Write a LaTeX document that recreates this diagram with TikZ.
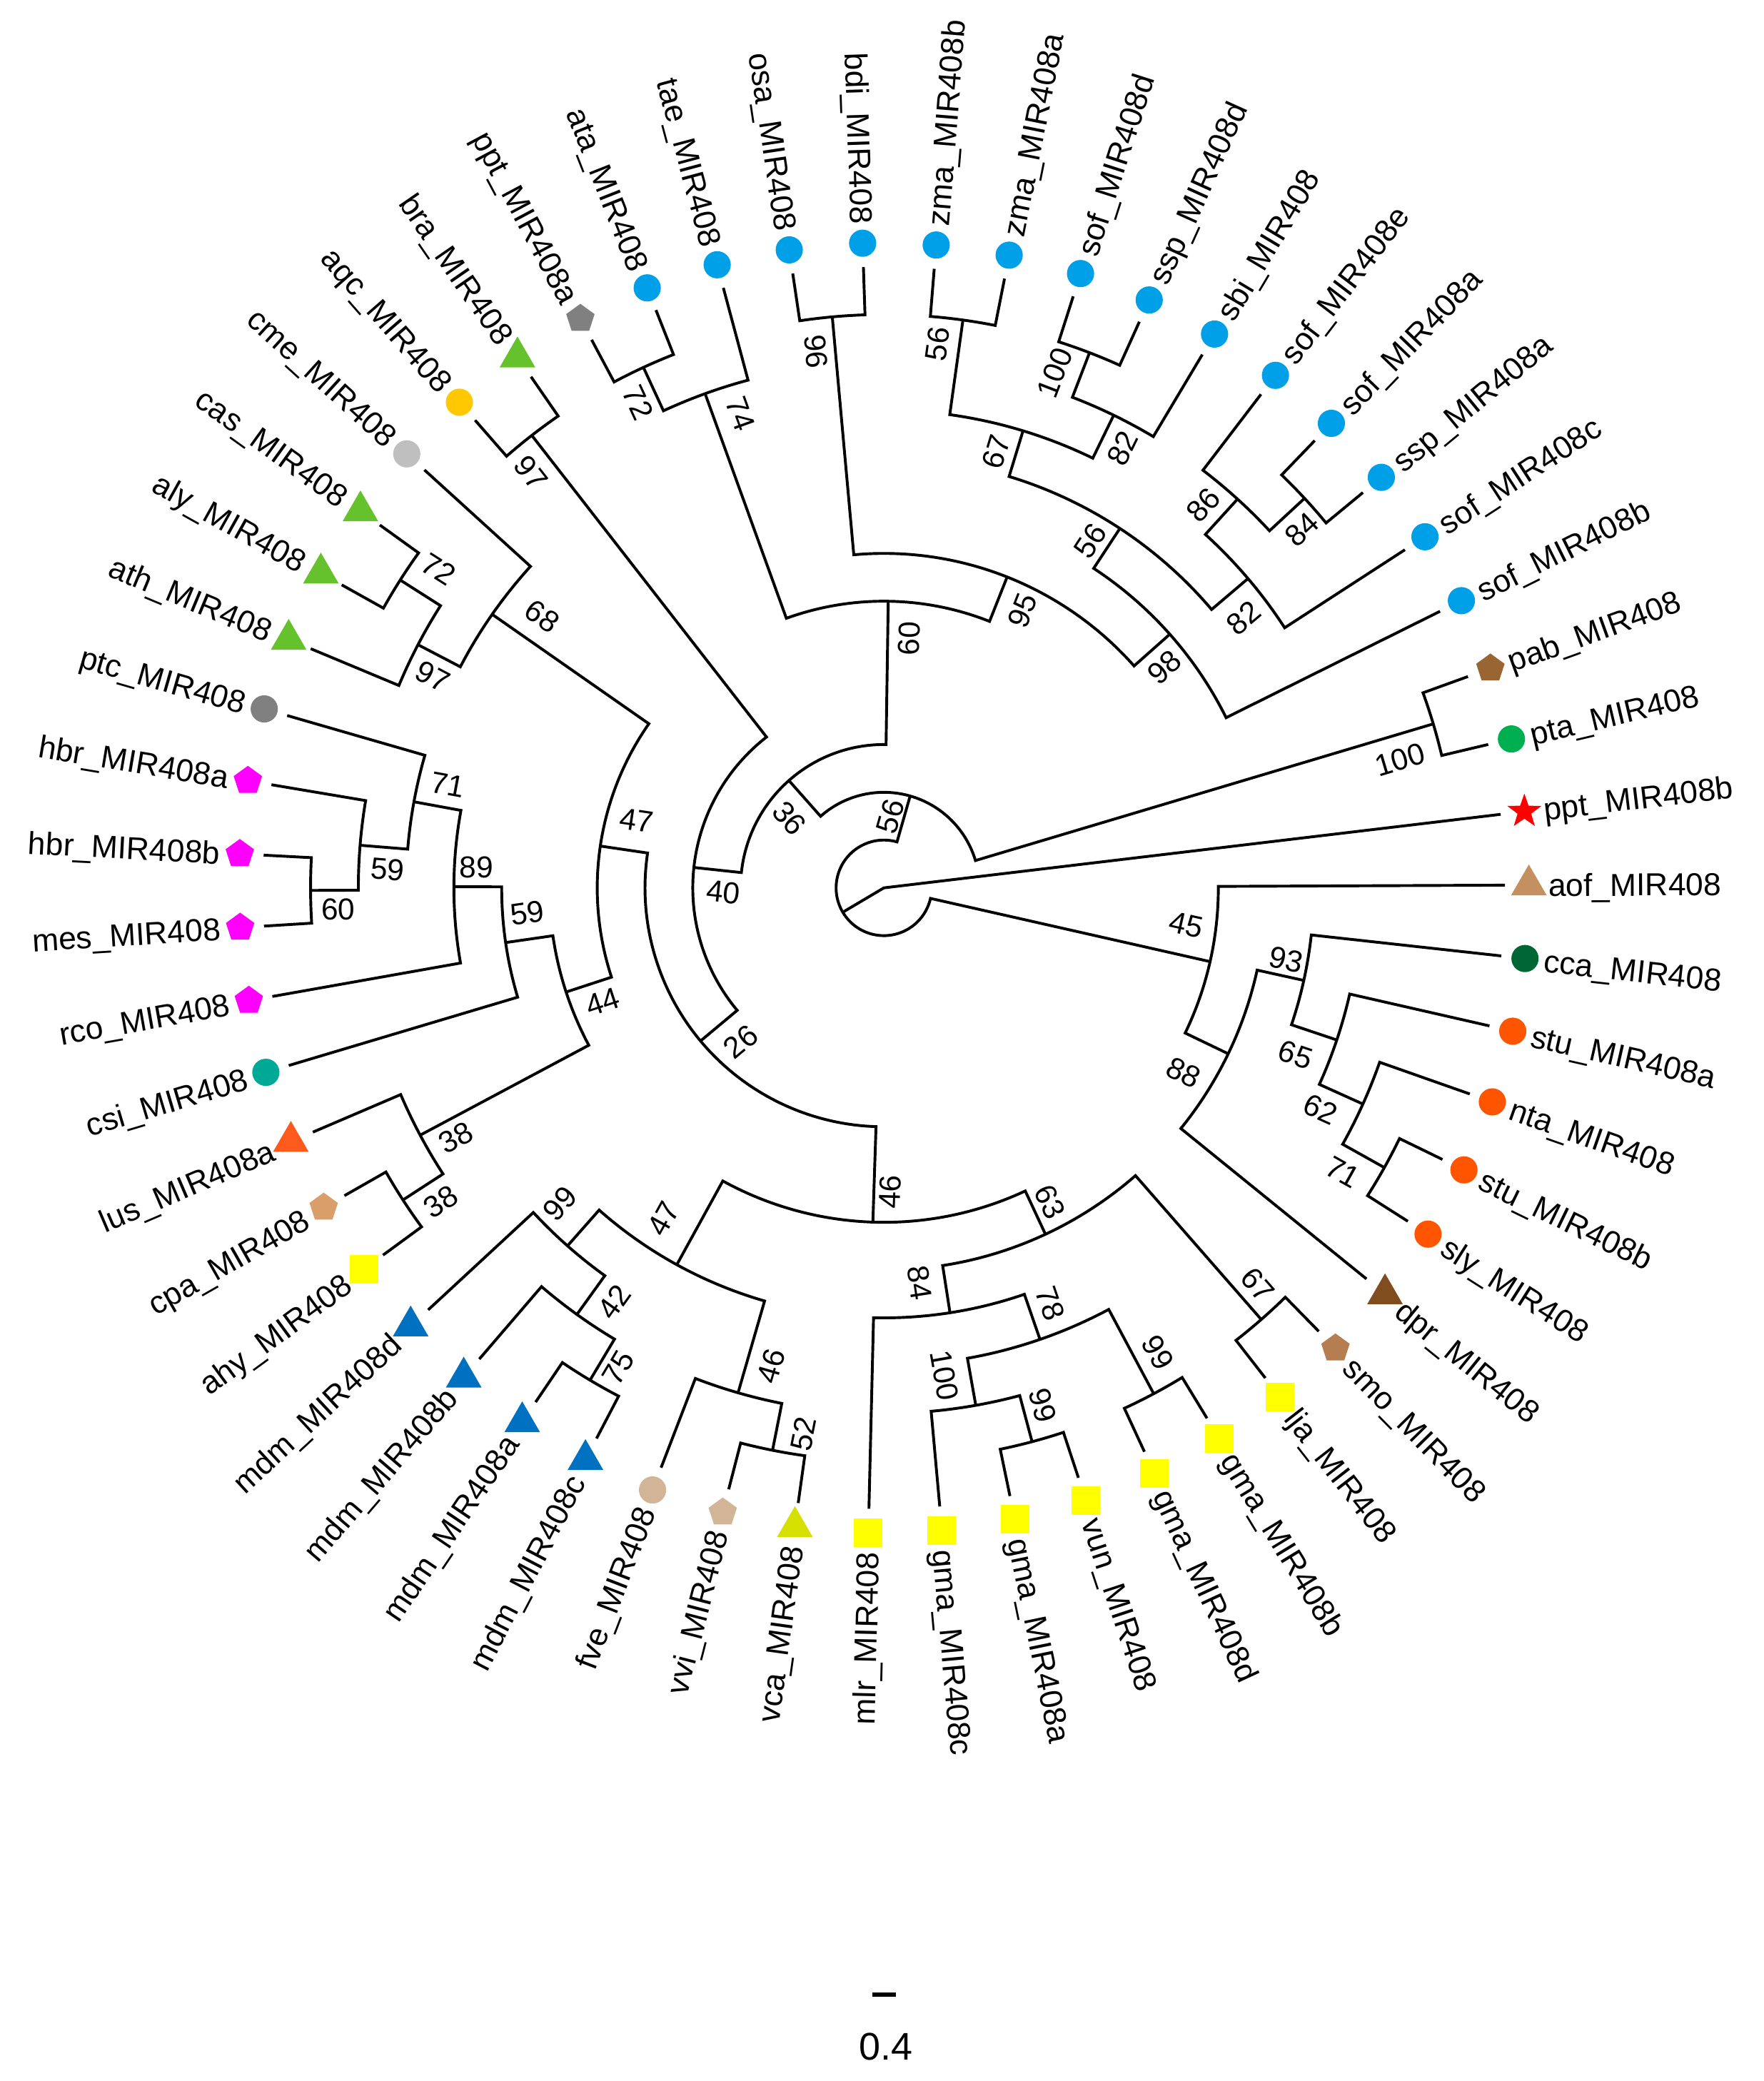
\documentclass[tikz,border=0pt]{standalone}
\usepackage{fontspec}
\setmainfont{Liberation Sans}
\usetikzlibrary{shapes.geometric}
\definecolor{pptred}{RGB}{255,0,0}
\definecolor{ptagreen}{RGB}{0,176,80}
\definecolor{pabbrown}{RGB}{153,102,51}
\definecolor{grassblue}{RGB}{0,160,233}
\definecolor{pptgray}{RGB}{128,128,128}
\definecolor{brassgreen}{RGB}{102,194,44}
\definecolor{aqcyellow}{RGB}{255,200,0}
\definecolor{cmegray}{RGB}{191,191,191}
\definecolor{ptcgray}{RGB}{128,128,128}
\definecolor{hbrmagenta}{RGB}{255,0,255}
\definecolor{csiteal}{RGB}{0,168,150}
\definecolor{lusorange}{RGB}{255,90,30}
\definecolor{cpapeach}{RGB}{217,158,106}
\definecolor{fabyellow}{RGB}{255,255,0}
\definecolor{mdmblue}{RGB}{0,112,192}
\definecolor{vvitan}{RGB}{210,180,150}
\definecolor{vcalime}{RGB}{214,224,0}
\definecolor{smobrown}{RGB}{181,126,80}
\definecolor{dprbrown}{RGB}{128,77,30}
\definecolor{solorange}{RGB}{255,85,0}
\definecolor{ccagreen}{RGB}{0,102,51}
\definecolor{aoftan}{RGB}{196,144,96}
\tikzset{
  branch/.style={line width=1.2pt},
  dot/.style={circle, minimum size=0.41cm, inner sep=0pt},
  tri/.style={regular polygon, regular polygon sides=3, minimum size=0.62cm, inner sep=0pt},
  pent/.style={regular polygon, regular polygon sides=5, minimum size=0.45cm, inner sep=0pt},
  sq/.style={rectangle, minimum size=0.43cm, inner sep=0pt},
  starm/.style={star, star points=5, star point ratio=2.5, minimum size=0.54cm, inner sep=0pt},
  lab/.style={font=\fontsize{13.6}{16}\selectfont, inner sep=0pt, text height=9.7pt, text depth=0pt},
  labr/.style={lab, anchor=west},
  labl/.style={lab, anchor=east},
  boot/.style={font=\fontsize{13}{15}\selectfont, inner sep=0pt, text height=9.3pt, text depth=0pt}
}
\begin{document}
\begin{tikzpicture}[x=0.72cm,y=0.72cm]
\useasboundingbox (-18.5,-24.972) rectangle (18.417,18.583);

\coordinate (pptb) at (6.80:13); \node[starm, fill=pptred] (pptb-m) at (6.80:13.5) {}; \node[labr, rotate=6.80] (pptb-t) at (6.80:13.9) {ppt\_MIR408b};
\coordinate (pta) at (13.35:13); \node[dot, fill=ptagreen] (pta-m) at (13.35:13.5) {}; \node[labr, rotate=13.35] (pta-t) at (13.35:13.9) {pta\_MIR408};
\coordinate (pab) at (19.89:13); \node[pent, fill=pabbrown] (pab-m) at (19.89:13.5) {}; \node[labr, rotate=19.89] (pab-t) at (19.89:13.9) {pab\_MIR408};
\coordinate (sofb) at (26.44:13); \node[dot, fill=grassblue] (sofb-m) at (26.44:13.5) {}; \node[labr, rotate=26.44] (sofb-t) at (26.44:13.9) {sof\_MIR408b};
\coordinate (sofc) at (32.98:13); \node[dot, fill=grassblue] (sofc-m) at (32.98:13.5) {}; \node[labr, rotate=32.98] (sofc-t) at (32.98:13.9) {sof\_MIR408c};
\coordinate (sspa) at (39.53:13); \node[dot, fill=grassblue] (sspa-m) at (39.53:13.5) {}; \node[labr, rotate=39.53] (sspa-t) at (39.53:13.9) {ssp\_MIR408a};
\coordinate (sofa) at (46.07:13); \node[dot, fill=grassblue] (sofa-m) at (46.07:13.5) {}; \node[labr, rotate=46.07] (sofa-t) at (46.07:13.9) {sof\_MIR408a};
\coordinate (sofe) at (52.62:13); \node[dot, fill=grassblue] (sofe-m) at (52.62:13.5) {}; \node[labr, rotate=52.62] (sofe-t) at (52.62:13.9) {sof\_MIR408e};
\coordinate (sbi) at (59.16:13); \node[dot, fill=grassblue] (sbi-m) at (59.16:13.5) {}; \node[labr, rotate=59.16] (sbi-t) at (59.16:13.9) {sbi\_MIR408};
\coordinate (sspd) at (65.71:13); \node[dot, fill=grassblue] (sspd-m) at (65.71:13.5) {}; \node[labr, rotate=65.71] (sspd-t) at (65.71:13.9) {ssp\_MIR408d};
\coordinate (sofd) at (72.25:13); \node[dot, fill=grassblue] (sofd-m) at (72.25:13.5) {}; \node[labr, rotate=72.25] (sofd-t) at (72.25:13.9) {sof\_MIR408d};
\coordinate (zmaa) at (78.80:13); \node[dot, fill=grassblue] (zmaa-m) at (78.80:13.5) {}; \node[labr, rotate=78.80] (zmaa-t) at (78.80:13.9) {zma\_MIR408a};
\coordinate (zmab) at (85.35:13); \node[dot, fill=grassblue] (zmab-m) at (85.35:13.5) {}; \node[labr, rotate=85.35] (zmab-t) at (85.35:13.9) {zma\_MIR408b};
\coordinate (bdi) at (91.89:13); \node[dot, fill=grassblue] (bdi-m) at (91.89:13.5) {}; \node[labl, rotate=-88.11] (bdi-t) at (91.89:13.9) {bdi\_MIR408};
\coordinate (osa) at (98.44:13); \node[dot, fill=grassblue] (osa-m) at (98.44:13.5) {}; \node[labl, rotate=-81.56] (osa-t) at (98.44:13.9) {osa\_MIR408};
\coordinate (tae) at (104.98:13); \node[dot, fill=grassblue] (tae-m) at (104.98:13.5) {}; \node[labl, rotate=-75.02] (tae-t) at (104.98:13.9) {tae\_MIR408};
\coordinate (ata) at (111.53:13); \node[dot, fill=grassblue] (ata-m) at (111.53:13.5) {}; \node[labl, rotate=-68.47] (ata-t) at (111.53:13.9) {ata\_MIR408};
\coordinate (ppta) at (118.07:13); \node[pent, fill=pptgray] (ppta-m) at (118.07:13.5) {}; \node[labl, rotate=-61.93] (ppta-t) at (118.07:13.9) {ppt\_MIR408a};
\coordinate (bra) at (124.62:13); \node[tri, fill=brassgreen] (bra-m) at (124.62:13.5) {}; \node[labl, rotate=-55.38] (bra-t) at (124.62:13.9) {bra\_MIR408};
\coordinate (aqc) at (131.16:13); \node[dot, fill=aqcyellow] (aqc-m) at (131.16:13.5) {}; \node[labl, rotate=-48.84] (aqc-t) at (131.16:13.9) {aqc\_MIR408};
\coordinate (cme) at (137.71:13); \node[dot, fill=cmegray] (cme-m) at (137.71:13.5) {}; \node[labl, rotate=-42.29] (cme-t) at (137.71:13.9) {cme\_MIR408};
\coordinate (cas) at (144.25:13); \node[tri, fill=brassgreen] (cas-m) at (144.25:13.5) {}; \node[labl, rotate=-35.75] (cas-t) at (144.25:13.9) {cas\_MIR408};
\coordinate (aly) at (150.80:13); \node[tri, fill=brassgreen] (aly-m) at (150.80:13.5) {}; \node[labl, rotate=-29.20] (aly-t) at (150.80:13.9) {aly\_MIR408};
\coordinate (ath) at (157.35:13); \node[tri, fill=brassgreen] (ath-m) at (157.35:13.5) {}; \node[labl, rotate=-22.65] (ath-t) at (157.35:13.9) {ath\_MIR408};
\coordinate (ptc) at (163.89:13); \node[dot, fill=ptcgray] (ptc-m) at (163.89:13.5) {}; \node[labl, rotate=-16.11] (ptc-t) at (163.89:13.9) {ptc\_MIR408};
\coordinate (hbra) at (170.44:13); \node[pent, fill=hbrmagenta] (hbra-m) at (170.44:13.5) {}; \node[labl, rotate=-9.56] (hbra-t) at (170.44:13.9) {hbr\_MIR408a};
\coordinate (hbrb) at (176.98:13); \node[pent, fill=hbrmagenta] (hbrb-m) at (176.98:13.5) {}; \node[labl, rotate=-3.02] (hbrb-t) at (176.98:13.9) {hbr\_MIR408b};
\coordinate (mes) at (183.53:13); \node[pent, fill=hbrmagenta] (mes-m) at (183.53:13.5) {}; \node[labl, rotate=3.53] (mes-t) at (183.53:13.9) {mes\_MIR408};
\coordinate (rco) at (190.07:13); \node[pent, fill=hbrmagenta] (rco-m) at (190.07:13.5) {}; \node[labl, rotate=10.07] (rco-t) at (190.07:13.9) {rco\_MIR408};
\coordinate (csi) at (196.62:13); \node[dot, fill=csiteal] (csi-m) at (196.62:13.5) {}; \node[labl, rotate=16.62] (csi-t) at (196.62:13.9) {csi\_MIR408};
\coordinate (lus) at (203.16:13); \node[tri, fill=lusorange] (lus-m) at (203.16:13.5) {}; \node[labl, rotate=23.16] (lus-t) at (203.16:13.9) {lus\_MIR408a};
\coordinate (cpa) at (209.71:13); \node[pent, fill=cpapeach] (cpa-m) at (209.71:13.5) {}; \node[labl, rotate=29.71] (cpa-t) at (209.71:13.9) {cpa\_MIR408};
\coordinate (ahy) at (216.25:13); \node[sq, fill=fabyellow] (ahy-m) at (216.25:13.5) {}; \node[labl, rotate=36.25] (ahy-t) at (216.25:13.9) {ahy\_MIR408};
\coordinate (mdmd) at (222.80:13); \node[tri, fill=mdmblue] (mdmd-m) at (222.80:13.5) {}; \node[labl, rotate=42.80] (mdmd-t) at (222.80:13.9) {mdm\_MIR408d};
\coordinate (mdmb) at (229.35:13); \node[tri, fill=mdmblue] (mdmb-m) at (229.35:13.5) {}; \node[labl, rotate=49.35] (mdmb-t) at (229.35:13.9) {mdm\_MIR408b};
\coordinate (mdma) at (235.89:13); \node[tri, fill=mdmblue] (mdma-m) at (235.89:13.5) {}; \node[labl, rotate=55.89] (mdma-t) at (235.89:13.9) {mdm\_MIR408a};
\coordinate (mdmc) at (242.44:13); \node[tri, fill=mdmblue] (mdmc-m) at (242.44:13.5) {}; \node[labl, rotate=62.44] (mdmc-t) at (242.44:13.9) {mdm\_MIR408c};
\coordinate (fve) at (248.98:13); \node[dot, fill=vvitan] (fve-m) at (248.98:13.5) {}; \node[labl, rotate=68.98] (fve-t) at (248.98:13.9) {fve\_MIR408};
\coordinate (vvi) at (255.53:13); \node[pent, fill=vvitan] (vvi-m) at (255.53:13.5) {}; \node[labl, rotate=75.53] (vvi-t) at (255.53:13.9) {vvi\_MIR408};
\coordinate (vca) at (262.07:13); \node[tri, fill=vcalime] (vca-m) at (262.07:13.5) {}; \node[labl, rotate=82.07] (vca-t) at (262.07:13.9) {vca\_MIR408};
\coordinate (mlr) at (268.62:13); \node[sq, fill=fabyellow] (mlr-m) at (268.62:13.5) {}; \node[labl, rotate=88.62] (mlr-t) at (268.62:13.9) {mlr\_MIR408};
\coordinate (gmac) at (275.16:13); \node[sq, fill=fabyellow] (gmac-m) at (275.16:13.5) {}; \node[labr, rotate=275.16] (gmac-t) at (275.16:13.9) {gma\_MIR408c};
\coordinate (gmaa) at (281.71:13); \node[sq, fill=fabyellow] (gmaa-m) at (281.71:13.5) {}; \node[labr, rotate=281.71] (gmaa-t) at (281.71:13.9) {gma\_MIR408a};
\coordinate (vun) at (288.25:13); \node[sq, fill=fabyellow] (vun-m) at (288.25:13.5) {}; \node[labr, rotate=288.25] (vun-t) at (288.25:13.9) {vun\_MIR408};
\coordinate (gmad) at (294.80:13); \node[sq, fill=fabyellow] (gmad-m) at (294.80:13.5) {}; \node[labr, rotate=294.80] (gmad-t) at (294.80:13.9) {gma\_MIR408d};
\coordinate (gmab) at (301.35:13); \node[sq, fill=fabyellow] (gmab-m) at (301.35:13.5) {}; \node[labr, rotate=301.35] (gmab-t) at (301.35:13.9) {gma\_MIR408b};
\coordinate (lja) at (307.89:13); \node[sq, fill=fabyellow] (lja-m) at (307.89:13.5) {}; \node[labr, rotate=307.89] (lja-t) at (307.89:13.9) {lja\_MIR408};
\coordinate (smo) at (314.44:13); \node[pent, fill=smobrown] (smo-m) at (314.44:13.5) {}; \node[labr, rotate=314.44] (smo-t) at (314.44:13.9) {smo\_MIR408};
\coordinate (dpr) at (320.98:13); \node[tri, fill=dprbrown] (dpr-m) at (320.98:13.5) {}; \node[labr, rotate=320.98] (dpr-t) at (320.98:13.9) {dpr\_MIR408};
\coordinate (sly) at (327.53:13); \node[dot, fill=solorange] (sly-m) at (327.53:13.5) {}; \node[labr, rotate=327.53] (sly-t) at (327.53:13.9) {sly\_MIR408};
\coordinate (stub) at (334.07:13); \node[dot, fill=solorange] (stub-m) at (334.07:13.5) {}; \node[labr, rotate=334.07] (stub-t) at (334.07:13.9) {stu\_MIR408b};
\coordinate (nta) at (340.62:13); \node[dot, fill=solorange] (nta-m) at (340.62:13.5) {}; \node[labr, rotate=340.62] (nta-t) at (340.62:13.9) {nta\_MIR408};
\coordinate (stua) at (347.16:13); \node[dot, fill=solorange] (stua-m) at (347.16:13.5) {}; \node[labr, rotate=347.16] (stua-t) at (347.16:13.9) {stu\_MIR408a};
\coordinate (cca) at (353.71:13); \node[dot, fill=ccagreen] (cca-m) at (353.71:13.5) {}; \node[labr, rotate=353.71] (cca-t) at (353.71:13.9) {cca\_MIR408};
\coordinate (aof) at (0.25:13); \node[tri, fill=aoftan] (aof-m) at (0.25:13.5) {}; \node[labr, rotate=0.25] (aof-t) at (0.25:13.9) {aof\_MIR408};

\coordinate (root) at (0,0);
\coordinate (rest) at (210.66:1);
\coordinate (n56) at (74.06:2);
\coordinate (n36) at (131.505:3);
\coordinate (n40) at (173.875:4);
\coordinate (n26) at (219.86:5);
\coordinate (n60g) at (89.13:6);
\coordinate (n47a) at (171.61:6);
\coordinate (n95) at (68.375:7);
\coordinate (n44) at (198.15:7);
\coordinate (n46) at (268.11:7);
\coordinate (n45) at (347.26:7);
\coordinate (n98) at (41.575:8);
\coordinate (n59c) at (188.23:8);
\coordinate (n63) at (295.005:8);
\coordinate (n88) at (334.275:8);
\coordinate (n56s) at (56.71:9);
\coordinate (n89) at (179.845:9);
\coordinate (n47b) at (241.21:9);
\coordinate (n84m) at (278.845:9);
\coordinate (n93) at (347.57:9);
\coordinate (n82c) at (40.345:10);
\coordinate (n67g) at (73.07:10);
\coordinate (n68) at (145.075:10);
\coordinate (n71p) at (169.62:10);
\coordinate (n99m) at (228.53:10);
\coordinate (n78) at (289.07:10);
\coordinate (n65) at (341.435:10);
\coordinate (n86) at (47.71:11);
\coordinate (n82s) at (64.07:11);
\coordinate (n74) at (109.89:11);
\coordinate (n97c) at (152.44:11);
\coordinate (n59h) at (175.35:11);
\coordinate (n38a) at (208.07:11);
\coordinate (n42) at (234.26:11);
\coordinate (n46v) at (253.89:11);
\coordinate (n100g) at (280.07:11);
\coordinate (n62) at (335.71:11);
\coordinate (n100p) at (16.62:12);
\coordinate (n84s) at (42.80:12);
\coordinate (n100s) at (68.98:12);
\coordinate (n56z) at (82.075:12);
\coordinate (n96) at (95.165:12);
\coordinate (n72t) at (114.80:12);
\coordinate (n97a) at (127.89:12);
\coordinate (n72c) at (147.525:12);
\coordinate (n60h) at (180.255:12);
\coordinate (n38b) at (212.98:12);
\coordinate (n75) at (239.165:12);
\coordinate (n52) at (258.80:12);
\coordinate (n99g) at (284.98:12);
\coordinate (n99d) at (298.075:12);
\coordinate (n67l) at (311.165:12);
\coordinate (n71s) at (330.80:12);

\draw[branch] (pptb) -- (root) -- (rest);
\draw[branch] (n56) -- (74.06:1) arc[start angle=74.06, end angle=347.26, radius=1] -- (n45);
\draw[branch] (n100p) -- (16.62:2) arc[start angle=16.62, end angle=131.505, radius=2] -- (n36);
\draw[branch] (n60g) -- (89.13:3) arc[start angle=89.13, end angle=173.875, radius=3] -- (n40);
\draw[branch] (n97a) -- (127.89:4) arc[start angle=127.89, end angle=219.86, radius=4] -- (n26);
\draw[branch] (n47a) -- (171.61:5) arc[start angle=171.61, end angle=268.11, radius=5] -- (n46);
\draw[branch] (n95) -- (68.375:6) arc[start angle=68.375, end angle=109.89, radius=6] -- (n74);
\draw[branch] (n68) -- (145.075:6) arc[start angle=145.075, end angle=198.15, radius=6] -- (n44);
\draw[branch] (n98) -- (41.575:7) arc[start angle=41.575, end angle=95.165, radius=7] -- (n96);
\draw[branch] (n59c) -- (188.23:7) arc[start angle=188.23, end angle=208.07, radius=7] -- (n38a);
\draw[branch] (n47b) -- (241.21:7) arc[start angle=241.21, end angle=295.005, radius=7] -- (n63);
\draw[branch] (n88) -- (334.275:7) arc[start angle=334.275, end angle=360.25, radius=7] -- (aof);
\draw[branch] (sofb) -- (26.44:8) arc[start angle=26.44, end angle=56.71, radius=8] -- (n56s);
\draw[branch] (n89) -- (179.845:8) arc[start angle=179.845, end angle=196.62, radius=8] -- (csi);
\draw[branch] (n84m) -- (278.845:8) arc[start angle=278.845, end angle=311.165, radius=8] -- (n67l);
\draw[branch] (dpr) -- (320.98:8) arc[start angle=320.98, end angle=347.57, radius=8] -- (n93);
\draw[branch] (n82c) -- (40.345:9) arc[start angle=40.345, end angle=73.07, radius=9] -- (n67g);
\draw[branch] (n71p) -- (169.62:9) arc[start angle=169.62, end angle=190.07, radius=9] -- (rco);
\draw[branch] (n99m) -- (228.53:9) arc[start angle=228.53, end angle=253.89, radius=9] -- (n46v);
\draw[branch] (mlr) -- (268.62:9) arc[start angle=268.62, end angle=289.07, radius=9] -- (n78);
\draw[branch] (n65) -- (341.435:9) arc[start angle=341.435, end angle=353.71, radius=9] -- (cca);
\draw[branch] (sofc) -- (32.98:10) arc[start angle=32.98, end angle=47.71, radius=10] -- (n86);
\draw[branch] (n82s) -- (64.07:10) arc[start angle=64.07, end angle=82.075, radius=10] -- (n56z);
\draw[branch] (cme) -- (137.71:10) arc[start angle=137.71, end angle=152.44, radius=10] -- (n97c);
\draw[branch] (ptc) -- (163.89:10) arc[start angle=163.89, end angle=175.35, radius=10] -- (n59h);
\draw[branch] (mdmd) -- (222.80:10) arc[start angle=222.80, end angle=234.26, radius=10] -- (n42);
\draw[branch] (n100g) -- (280.07:10) arc[start angle=280.07, end angle=298.075, radius=10] -- (n99d);
\draw[branch] (n62) -- (335.71:10) arc[start angle=335.71, end angle=347.16, radius=10] -- (stua);
\draw[branch] (n84s) -- (42.80:11) arc[start angle=42.80, end angle=52.62, radius=11] -- (sofe);
\draw[branch] (sbi) -- (59.16:11) arc[start angle=59.16, end angle=68.98, radius=11] -- (n100s);
\draw[branch] (tae) -- (104.98:11) arc[start angle=104.98, end angle=114.80, radius=11] -- (n72t);
\draw[branch] (n72c) -- (147.525:11) arc[start angle=147.525, end angle=157.35, radius=11] -- (ath);
\draw[branch] (hbra) -- (170.44:11) arc[start angle=170.44, end angle=180.255, radius=11] -- (n60h);
\draw[branch] (lus) -- (203.16:11) arc[start angle=203.16, end angle=212.98, radius=11] -- (n38b);
\draw[branch] (mdmb) -- (229.35:11) arc[start angle=229.35, end angle=239.165, radius=11] -- (n75);
\draw[branch] (fve) -- (248.98:11) arc[start angle=248.98, end angle=258.80, radius=11] -- (n52);
\draw[branch] (gmac) -- (275.16:11) arc[start angle=275.16, end angle=284.98, radius=11] -- (n99g);
\draw[branch] (n71s) -- (330.80:11) arc[start angle=330.80, end angle=340.62, radius=11] -- (nta);
\draw[branch] (pta) -- (13.35:12) arc[start angle=13.35, end angle=19.89, radius=12] -- (pab);
\draw[branch] (sspa) -- (39.53:12) arc[start angle=39.53, end angle=46.07, radius=12] -- (sofa);
\draw[branch] (sspd) -- (65.71:12) arc[start angle=65.71, end angle=72.25, radius=12] -- (sofd);
\draw[branch] (zmaa) -- (78.80:12) arc[start angle=78.80, end angle=85.35, radius=12] -- (zmab);
\draw[branch] (bdi) -- (91.89:12) arc[start angle=91.89, end angle=98.44, radius=12] -- (osa);
\draw[branch] (ata) -- (111.53:12) arc[start angle=111.53, end angle=118.07, radius=12] -- (ppta);
\draw[branch] (bra) -- (124.62:12) arc[start angle=124.62, end angle=131.16, radius=12] -- (aqc);
\draw[branch] (cas) -- (144.25:12) arc[start angle=144.25, end angle=150.80, radius=12] -- (aly);
\draw[branch] (hbrb) -- (176.98:12) arc[start angle=176.98, end angle=183.53, radius=12] -- (mes);
\draw[branch] (cpa) -- (209.71:12) arc[start angle=209.71, end angle=216.25, radius=12] -- (ahy);
\draw[branch] (mdma) -- (235.89:12) arc[start angle=235.89, end angle=242.44, radius=12] -- (mdmc);
\draw[branch] (vvi) -- (255.53:12) arc[start angle=255.53, end angle=262.07, radius=12] -- (vca);
\draw[branch] (gmaa) -- (281.71:12) arc[start angle=281.71, end angle=288.25, radius=12] -- (vun);
\draw[branch] (gmad) -- (294.80:12) arc[start angle=294.80, end angle=301.35, radius=12] -- (gmab);
\draw[branch] (lja) -- (307.89:12) arc[start angle=307.89, end angle=314.44, radius=12] -- (smo);
\draw[branch] (sly) -- (327.53:12) arc[start angle=327.53, end angle=334.07, radius=12] -- (stub);

\node[boot, rotate=16.6] (b100p) at (10.800,2.689) {100};
\node[boot, rotate=-65.2] (b72t) at (-5.136,10.156) {72};
\node[boot, rotate=-70.1] (b74) at (-3.000,9.919) {74};
\node[boot, rotate=-84.8] (b96) at (-1.417,11.225) {96};
\node[boot, rotate=82.1] (b56z) at (1.114,11.383) {56};
\node[boot, rotate=69.0] (b100s) at (3.567,10.789) {100};
\node[boot, rotate=64.1] (b82s) at (4.992,9.208) {82};
\node[boot, rotate=73.1] (b67g) at (2.342,9.128) {67};
\node[boot, rotate=42.8] (b84s) at (8.742,7.506) {84};
\node[boot, rotate=47.7] (b86) at (6.683,8.019) {86};
\node[boot, rotate=40.3] (b82c) at (7.517,5.656) {82};
\node[boot, rotate=56.7] (b56s) at (4.319,7.269) {56};
\node[boot, rotate=41.6] (b98) at (5.864,4.625) {98};
\node[boot, rotate=68.4] (b95) at (2.894,5.814) {95};
\node[boot, rotate=89.1] (b60g) at (0.519,5.219) {60};
\node[boot, rotate=-52.1] (b97a) at (-7.383,8.694) {97};
\node[boot, rotate=-32.5] (b72c) at (-9.322,6.675) {72};
\node[boot, rotate=-27.6] (b97c) at (-9.442,4.428) {97};
\node[boot, rotate=-34.9] (b68) at (-7.144,5.694) {68};
\node[boot, rotate=0.3] (b60h) at (-11.419,-0.436) {60};
\node[boot, rotate=-4.6] (b59h) at (-10.389,0.394) {59};
\node[boot, rotate=-10.4] (b71p) at (-9.125,2.172) {71};
\node[boot, rotate=-0.2] (b89) at (-8.531,0.433) {89};
\node[boot, rotate=8.2] (b59c) at (-7.461,-0.517) {59};
\node[boot, rotate=33.0] (b38b) at (-9.283,-6.564) {38};
\node[boot, rotate=28.1] (b38a) at (-8.967,-5.225) {38};
\node[boot, rotate=18.2] (b44) at (-5.889,-2.375) {44};
\node[boot, rotate=-8.4] (b47a) at (-5.175,1.422) {47};
\node[boot, rotate=59.2] (b75) at (-5.572,-10.044) {75};
\node[boot, rotate=54.3] (b42) at (-5.650,-8.658) {42};
\node[boot, rotate=48.5] (b99m) at (-6.789,-6.603) {99};
\node[boot, rotate=78.8] (b52) at (-1.694,-11.428) {52};
\node[boot, rotate=73.9] (b46v) at (-2.367,-10.003) {46};
\node[boot, rotate=61.2] (b47b) at (-4.622,-6.919) {47};
\node[boot, rotate=-75.0] (b99g) at (3.331,-10.833) {99};
\node[boot, rotate=-79.9] (b100g) at (1.272,-10.203) {100};
\node[boot, rotate=-61.9] (b99d) at (5.742,-9.725) {99};
\node[boot, rotate=-70.9] (b78) at (3.489,-8.697) {78};
\node[boot, rotate=-81.2] (b84m) at (0.758,-8.264) {84};
\node[boot, rotate=-48.8] (b67l) at (7.833,-8.303) {67};
\node[boot, rotate=-65.0] (b63) at (3.489,-6.564) {63};
\node[boot, rotate=88.1] (b46) at (0.125,-6.364) {46};
\node[boot, rotate=39.9] (b26) at (-3.000,-3.208) {26};
\node[boot, rotate=-6.1] (b40) at (-3.356,-0.081) {40};
\node[boot, rotate=-48.5] (b36) at (-1.972,1.461) {36};
\node[boot, rotate=74.1] (b56) at (0.125,1.500) {56};
\node[boot, rotate=-29.2] (b71s) at (9.611,-5.944) {71};
\node[boot, rotate=-24.3] (b62) at (9.139,-4.628) {62};
\node[boot, rotate=-18.6] (b65) at (8.622,-3.483) {65};
\node[boot, rotate=-12.4] (b93) at (8.425,-1.500) {93};
\node[boot, rotate=-25.7] (b88) at (6.278,-3.861) {88};
\node[boot, rotate=-12.7] (b45) at (6.333,-0.764) {45};

\coordinate (barL) at (-0.236,-23.167);
\coordinate (barR) at (0.258,-23.167);
\draw[line width=1.8pt] (barL) -- (barR);
\node[font=\fontsize{16.5}{19}\selectfont, inner sep=0pt, text height=11.8pt, text depth=0pt] (barlab) at (0.042,-24.239) {0.4};
\end{tikzpicture}
\end{document}
